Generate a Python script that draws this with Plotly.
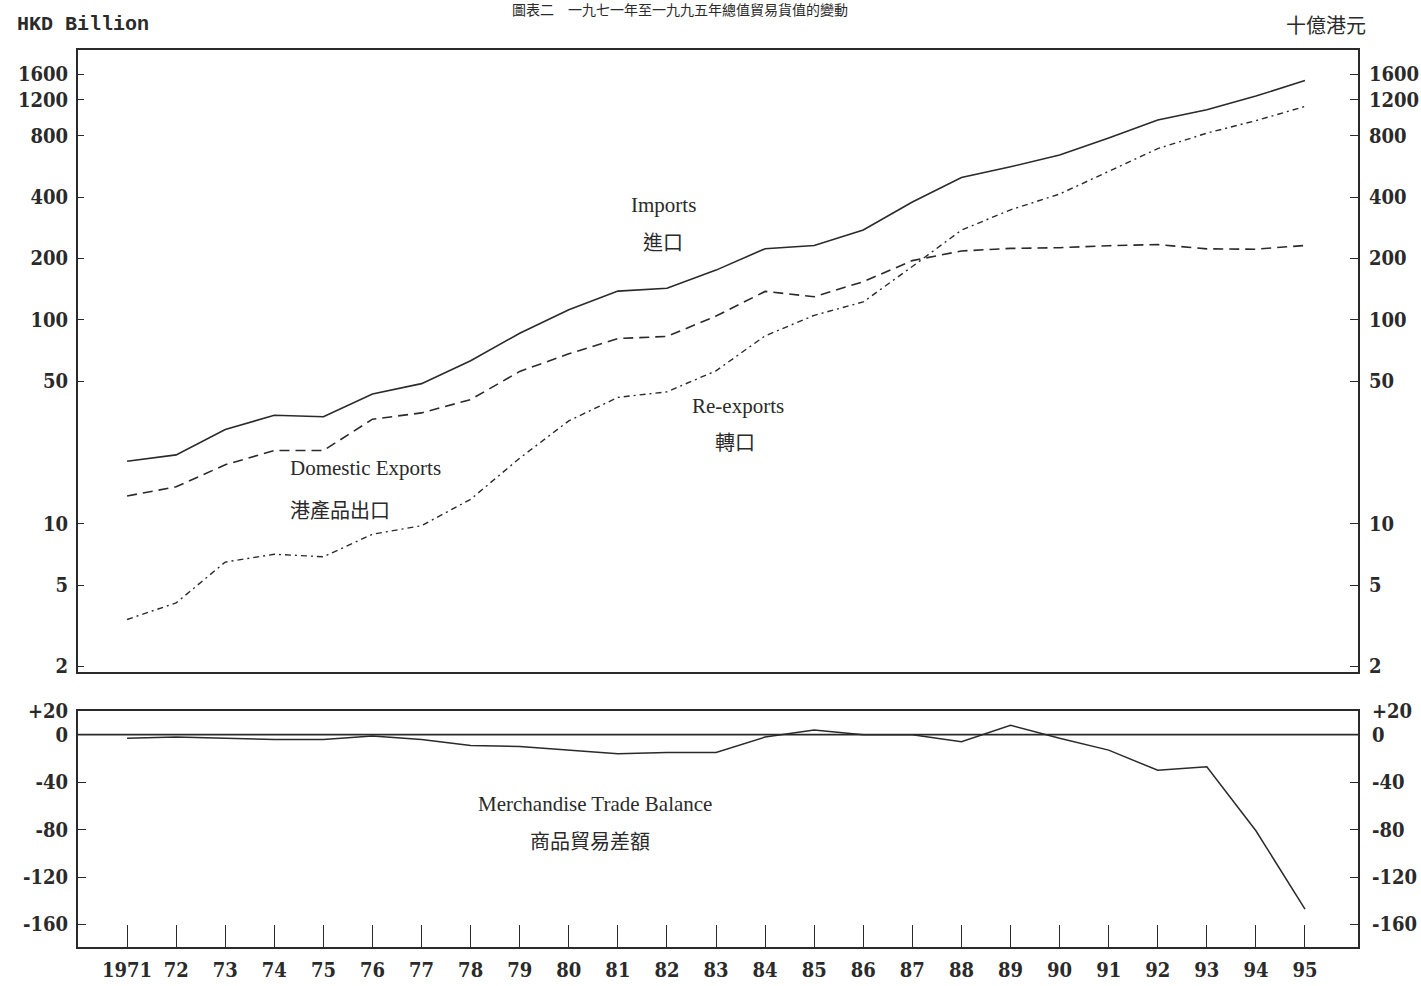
import plotly.graph_objects as go

years = list(range(1971, 1996))
year_labels = ["1971"] + [str(y)[2:] for y in range(1972, 1996)]

imports = [20.3, 21.8, 29.0, 34.1, 33.5, 43.3, 48.7, 63.1, 86.0, 112.0, 138.4, 142.9,
           175.4, 223.4, 231.4, 275.9, 378.0, 498.8, 562.8, 642.5, 778.9, 955.3,
           1072.6, 1250.7, 1491.1]
domestic_exports = [13.7, 15.2, 19.5, 22.9, 22.9, 32.6, 35.0, 40.7, 55.9, 68.2, 81.0, 83.0,
                    104.4, 137.9, 129.9, 153.9, 195.3, 217.7, 224.1, 225.9, 231.0, 234.1,
                    223.0, 222.1, 231.7]
re_exports = [3.4, 4.1, 6.5, 7.1, 6.9, 8.9, 9.8, 13.2, 21.0, 32.0, 41.7, 44.4,
              56.3, 83.5, 105.3, 122.5, 182.8, 275.4, 346.4, 413.9, 534.8, 690.8,
              823.2, 947.9, 1112.5]
trade_balance = [-3, -2, -3, -4, -4, -1, -4, -9, -10, -13, -16, -15, -15, -2, 4, 0, 0,
                 -6, 8, -3, -13, -30, -27, -81, -147]

upper_ticks = [2, 5, 10, 50, 100, 200, 400, 800, 1200, 1600]
upper_tick_text = ["2", "5", "10", "50", "100", "200", "400", "800", "1200", "1600"]
lower_ticks = [20, 0, -40, -80, -120, -160]
lower_tick_text = ["+20", "0", "-40", "-80", "-120", "-160"]

W, H = 1421, 986
L, R, T, B = 78, 1358, 50, 947


def px(x):
    return (x - L) / (R - L)


def py(y):
    return (B - y) / (B - T)


ink = "#2a2a2a"
tick_font = dict(family="DejaVu Serif Condensed", size=20, color=ink, weight="bold")
serif = "Liberation Serif"
cjk = "Noto Sans CJK TC"

fig = go.Figure()
fig.add_trace(go.Scatter(x=years, y=imports, mode="lines", xaxis="x", yaxis="y",
                         line=dict(color=ink, width=1.6)))
fig.add_trace(go.Scatter(x=years, y=domestic_exports, mode="lines", xaxis="x", yaxis="y",
                         line=dict(color=ink, width=1.6, dash="10px,6px")))
fig.add_trace(go.Scatter(x=years, y=re_exports, mode="lines", xaxis="x", yaxis="y",
                         line=dict(color=ink, width=1.4, dash="6px,4px,2px,4px")))
fig.add_trace(go.Scatter(x=years, y=imports, mode="lines", xaxis="x", yaxis="y2",
                         line=dict(color="rgba(0,0,0,0)", width=0), hoverinfo="skip"))
fig.add_trace(go.Scatter(x=years, y=trade_balance, mode="lines", xaxis="x2", yaxis="y3",
                         line=dict(color=ink, width=1.5)))
fig.add_trace(go.Scatter(x=years, y=trade_balance, mode="lines", xaxis="x2", yaxis="y4",
                         line=dict(color="rgba(0,0,0,0)", width=0), hoverinfo="skip"))

upper_bottom = py(672)
lower_top = py(711)
log_range = [0.274, 3.323]
lin_range = [-179, 20]
x_range = [1970.0, 1996.08]

axis_common = dict(showgrid=False, zeroline=False, showline=True, linecolor=ink,
                   linewidth=2, tickfont=tick_font, automargin=False)

fig.update_layout(
    width=W, height=H,
    margin=dict(l=L, r=W - R, t=T, b=H - B),
    paper_bgcolor="white", plot_bgcolor="white",
    showlegend=False,
    xaxis=dict(**axis_common, domain=[0, 1], anchor="y", range=x_range, mirror=True,
               showticklabels=False, ticks=""),
    yaxis=dict(**axis_common, domain=[upper_bottom, 1], anchor="x", type="log",
               range=log_range, tickvals=upper_ticks, ticktext=upper_tick_text,
               ticks="inside", ticklen=6, tickcolor=ink, mirror=False,
               ticklabelstandoff=4),
    yaxis2=dict(**axis_common, overlaying="y", side="right", anchor="x", type="log",
                range=log_range, tickvals=upper_ticks, ticktext=upper_tick_text,
                ticks="inside", ticklen=8, tickcolor=ink, ticklabelstandoff=5),
    xaxis2=dict(**axis_common, domain=[0, 1], anchor="y3", range=x_range, mirror=True,
                tickvals=years, ticktext=year_labels, ticks="inside", ticklen=22,
                tickcolor=ink, tickwidth=1.2, ticklabelstandoff=4),
    yaxis3=dict(**axis_common, domain=[0, lower_top], anchor="x2", range=lin_range,
                tickvals=lower_ticks, ticktext=lower_tick_text, ticks="inside",
                ticklen=8, tickcolor=ink, mirror=False, ticklabelstandoff=4),
    yaxis4=dict(**axis_common, overlaying="y3", side="right", anchor="x2",
                range=lin_range, tickvals=lower_ticks, ticktext=lower_tick_text,
                ticks="inside", ticklen=8, tickcolor=ink, ticklabelstandoff=8),
)

fig.add_shape(type="line", xref="x2 domain", yref="y3", x0=0, x1=1, y0=0, y1=0,
              line=dict(color=ink, width=1.8))


def label(text, x, y, font, size):
    fig.add_annotation(text=text, x=px(x), y=py(y), xref="paper", yref="paper",
                       showarrow=False, xanchor="center", yanchor="middle",
                       font=dict(family=font, size=size, color=ink))


label("Imports", 663, 205, serif, 21)
label("進口", 663, 242, cjk, 20)
label("Domestic Exports", 365, 468, serif, 21)
label("港產品出口", 340, 509, cjk, 20)
label("Re-exports", 738, 406, serif, 21)
label("轉口", 735, 442, cjk, 20)
label("Merchandise Trade Balance", 595, 804, serif, 21)
label("商品貿易差額", 590, 840, cjk, 20)

fig.add_annotation(text="HKD Billion", x=px(15), y=py(24), xref="paper", yref="paper",
                   showarrow=False, xanchor="left", yanchor="middle",
                   font=dict(family="Liberation Mono", size=20, color=ink, weight="bold"))
fig.add_annotation(text="十億港元", x=px(1368), y=py(25), xref="paper", yref="paper",
                   showarrow=False, xanchor="right", yanchor="middle",
                   font=dict(family=cjk, size=20, color=ink))
fig.add_annotation(text="圖表二　一九七一年至一九九五年總值貿易貨值的變動", x=px(680), y=py(9),
                   xref="paper", yref="paper", showarrow=False, xanchor="center",
                   yanchor="middle",
                   font=dict(family=cjk, size=14, color=ink))

fig.write_html("out.html", config={"displayModeBar": False},
               post_script="document.body.style.margin='0';")
